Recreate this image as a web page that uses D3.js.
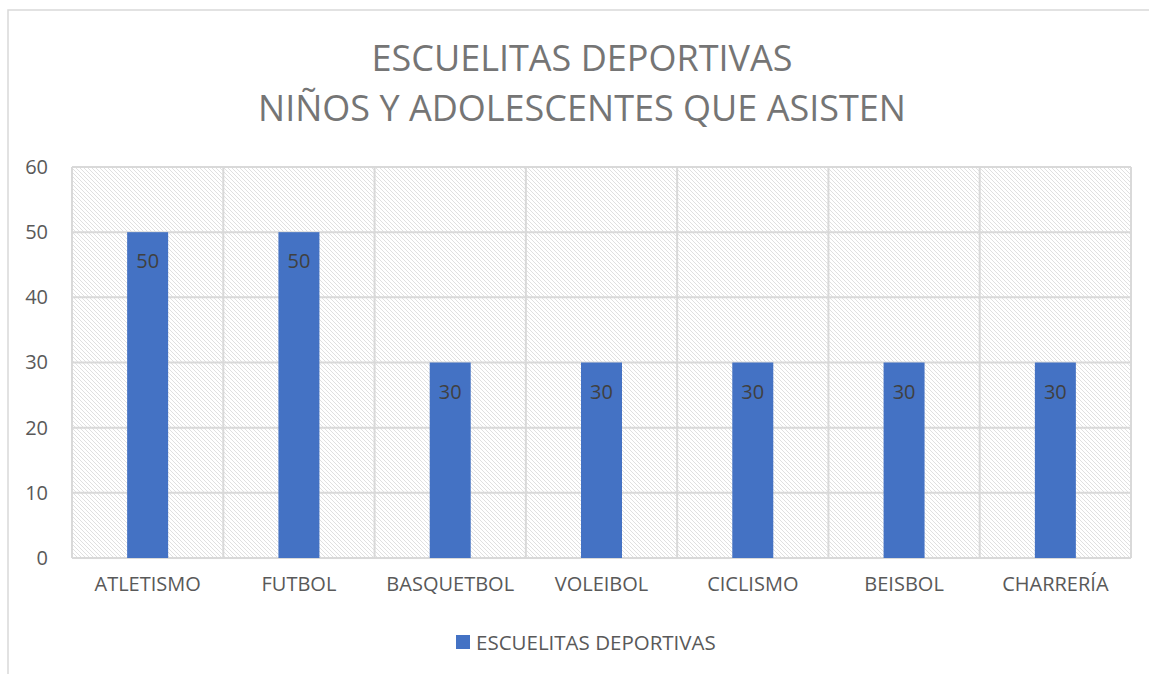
<!DOCTYPE html>
<html>
<head>
<meta charset="utf-8">
<script src="https://cdn.jsdelivr.net/npm/d3@7"></script>
<style>
body { margin: 0; background: #fff; }
svg text { font-family: "Open Sans", "Noto Sans", sans-serif; }
</style>
</head>
<body>
<svg id="chart" width="1149" height="674"></svg>
<script>
// data
var categories = ["ATLETISMO", "FUTBOL", "BASQUETBOL", "VOLEIBOL", "CICLISMO", "BEISBOL", "CHARRERÍA"];
var values = [50, 50, 30, 30, 30, 30, 30];
var yTicks = [0, 10, 20, 30, 40, 50, 60];
var titleLines = ["ESCUELITAS DEPORTIVAS", "NIÑOS Y ADOLESCENTES QUE ASISTEN"];
var seriesName = "ESCUELITAS DEPORTIVAS";

var svg = d3.select("#chart");
var plotL = 72, plotR = 1131, plotT = 167, plotB = 558;

// outer frame of the chart
svg.append("rect")
    .attr("x", 8).attr("y", 10)
    .attr("width", 1160).attr("height", 700)
    .attr("fill", "#fff")
    .attr("stroke", "#d9d9d9").attr("stroke-width", 1.5);

// hatch pattern for plot background
var defs = svg.append("defs");
var pat = defs.append("pattern")
    .attr("id", "hatch")
    .attr("patternUnits", "userSpaceOnUse")
    .attr("width", 4).attr("height", 4);
pat.append("rect").attr("width", 4).attr("height", 4).attr("fill", "#fff");
pat.append("path")
    .attr("d", "M-1,-1 L5,5 M-1,3 L1,5 M3,-1 L5,1")
    .attr("stroke", "#e0e0e0").attr("stroke-width", 1);

var x = d3.scaleBand().domain(categories).range([plotL, plotR]).paddingInner(0).paddingOuter(0);
var y = d3.scaleLinear().domain([0, 60]).range([plotB, plotT]);

svg.append("rect")
    .attr("x", plotL).attr("y", plotT)
    .attr("width", plotR - plotL).attr("height", plotB - plotT)
    .attr("fill", "url(#hatch)");

// horizontal gridlines
svg.append("g").selectAll("line").data(yTicks).enter().append("line")
    .attr("x1", plotL).attr("x2", plotR)
    .attr("y1", function(d){ return y(d); })
    .attr("y2", function(d){ return y(d); })
    .attr("stroke", "#d9d9d9").attr("stroke-width", 2);

// vertical gridlines at category edges
var edges = categories.map(function(c){ return x(c); }).concat([plotR]);
svg.append("g").selectAll("line").data(edges).enter().append("line")
    .attr("x1", function(d){ return d; }).attr("x2", function(d){ return d; })
    .attr("y1", plotT).attr("y2", plotB)
    .attr("stroke", "#d9d9d9").attr("stroke-width", 2);

// y axis labels
var yAxis = d3.axisLeft(y).tickValues(yTicks).tickSize(0).tickPadding(24);
var yg = svg.append("g").attr("transform", "translate(" + plotL + ",0)").call(yAxis);
yg.select(".domain").remove();
yg.selectAll("text").attr("fill", "#595959").style("font-size", "20px")
    .style("font-family", "'Open Sans', sans-serif");

// x axis labels
var xAxis = d3.axisBottom(x).tickSize(0).tickPadding(19);
var xg = svg.append("g").attr("transform", "translate(0," + plotB + ")").call(xAxis);
xg.select(".domain").remove();
xg.selectAll("text").attr("fill", "#595959").style("font-size", "20px")
    .style("font-family", "'Open Sans', sans-serif");

// bars
var barW = 41;
svg.append("g").selectAll("rect").data(values).enter().append("rect")
    .attr("x", function(d, i){ return x(categories[i]) + x.bandwidth() / 2 - barW / 2; })
    .attr("y", function(d){ return y(d); })
    .attr("width", barW)
    .attr("height", function(d){ return plotB - y(d); })
    .attr("fill", "#4472c4");

// data labels
svg.append("g").selectAll("text").data(values).enter().append("text")
    .attr("x", function(d, i){ return x(categories[i]) + x.bandwidth() / 2; })
    .attr("y", function(d){ return y(d) + 36; })
    .attr("text-anchor", "middle")
    .attr("fill", "#404040")
    .style("font-size", "20px")
    .text(function(d){ return d; });

// title
svg.append("g").selectAll("text").data(titleLines).enter().append("text")
    .attr("x", 582)
    .attr("y", function(d, i){ return 71 + i * 50; })
    .attr("text-anchor", "middle")
    .attr("fill", "#757575")
    .style("font-size", "36px")
    .text(function(d){ return d; });

// legend
svg.append("rect")
    .attr("x", 456).attr("y", 635)
    .attr("width", 14).attr("height", 14)
    .attr("fill", "#4472c4");
svg.append("text")
    .attr("x", 476).attr("y", 650)
    .attr("fill", "#595959")
    .style("font-size", "20.5px")
    .text(seriesName);
</script>
</body>
</html>
